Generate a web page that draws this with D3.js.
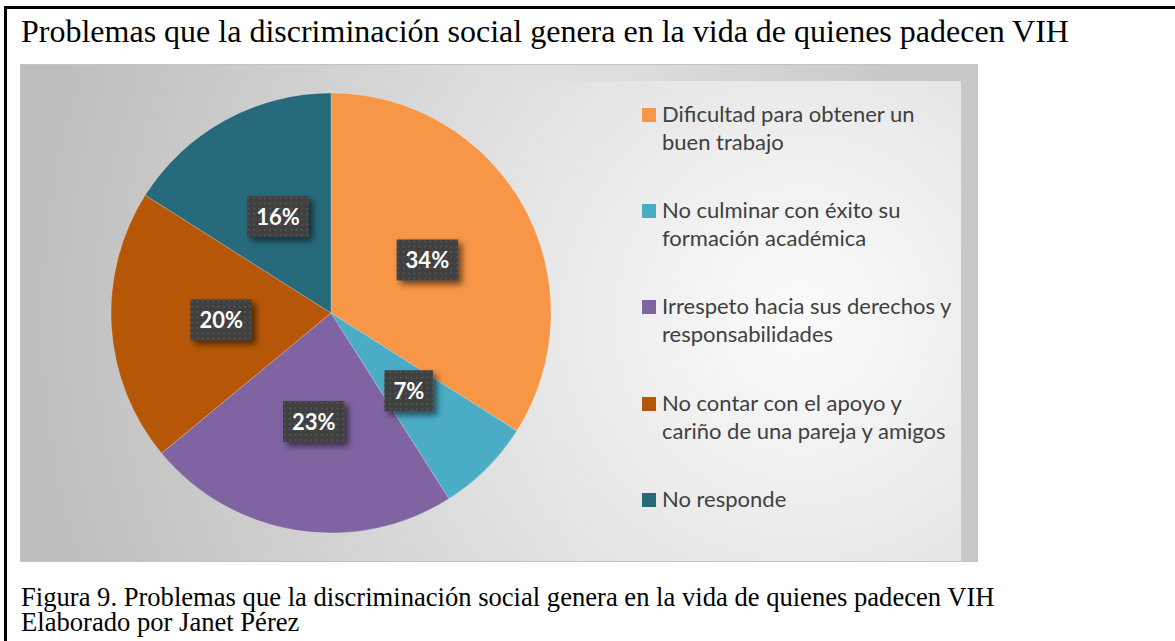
<!DOCTYPE html>
<html>
<head>
<meta charset="utf-8">
<script src="https://cdn.jsdelivr.net/npm/d3@7"></script>
<style>
  html, body { margin: 0; padding: 0; background: #fff; }
  svg { display: block; }
</style>
</head>
<body>
<div id="chart"></div>
<script>
// chart data
const categories = [
  "Dificultad para obtener un buen trabajo",
  "No culminar con éxito su formación académica",
  "Irrespeto hacia sus derechos y responsabilidades",
  "No contar con el apoyo y cariño de una pareja y amigos",
  "No responde"
]
const legendLines = [
  ["Dificultad para obtener un", "buen trabajo"],
  ["No culminar con éxito su", "formación académica"],
  ["Irrespeto hacia sus derechos y", "responsabilidades"],
  ["No contar con el apoyo y", "cariño de una pareja y amigos"],
  ["No responde"]
]
const values = [34, 7, 23, 20, 16]
const colors = ["#F79646", "#4BACC6", "#8064A2", "#B65708", "#276A7C"]

const titleText = "Problemas que la discriminación social genera en la vida de quienes padecen VIH"
const captionLines = [
  "Figura 9. Problemas que la discriminación social genera en la vida de quienes padecen VIH",
  "Elaborado por Janet Pérez"
]

const width = 1175
const height = 641

const svg = d3.select("#chart")
  .append("svg")
  .attr("width", width)
  .attr("height", height)

const defs = svg.append("defs")

// background gradient of the chart area
const bgGrad = defs.append("radialGradient")
  .attr("id", "bg-grad")
  .attr("gradientUnits", "userSpaceOnUse")
  .attr("cx", 800).attr("cy", 320).attr("r", 780)
bgGrad.append("stop").attr("offset", 0).attr("stop-color", "#fbfbfb")
bgGrad.append("stop").attr("offset", 0.25).attr("stop-color", "#ededed")
bgGrad.append("stop").attr("offset", 1).attr("stop-color", "#bdbdbd")

// fading band along the top right edge
const topGrad = defs.append("linearGradient")
  .attr("id", "top-grad")
  .attr("gradientUnits", "userSpaceOnUse")
  .attr("x1", 520).attr("x2", 890).attr("y1", 0).attr("y2", 0)
topGrad.append("stop").attr("offset", 0).attr("stop-color", "#c8c8c8").attr("stop-opacity", 0)
topGrad.append("stop").attr("offset", 1).attr("stop-color", "#c8c8c8").attr("stop-opacity", 1)

// dotted texture for the data labels
const pat = defs.append("pattern")
  .attr("id", "dots")
  .attr("patternUnits", "userSpaceOnUse")
  .attr("width", 5.3).attr("height", 5.3)
pat.append("rect").attr("width", 5.3).attr("height", 5.3).attr("fill", "#404040")
pat.append("rect").attr("x", 1.8).attr("y", 1.8).attr("width", 1.7).attr("height", 1.7).attr("fill", "#575757")

const shadow = defs.append("filter")
  .attr("id", "shadow")
  .attr("x", "-30%").attr("y", "-30%").attr("width", "170%").attr("height", "170%")
shadow.append("feDropShadow")
  .attr("dx", 4).attr("dy", 4).attr("stdDeviation", 3)
  .attr("flood-color", "#000").attr("flood-opacity", 0.55)

// outer frame
svg.append("line")
  .attr("x1", 5.5).attr("x2", 5.5).attr("y1", 6).attr("y2", height)
  .attr("stroke", "#000").attr("stroke-width", 3)
svg.append("line")
  .attr("x1", 4).attr("x2", width).attr("y1", 7.5).attr("y2", 7.5)
  .attr("stroke", "#000").attr("stroke-width", 3)

// title
svg.append("text")
  .attr("x", 21).attr("y", 42)
  .style("font-family", "'Liberation Serif', 'Times New Roman', serif")
  .style("font-size", "32px")
  .attr("fill", "#000")
  .text(titleText)

// chart area
const area = { x: 20, y: 64, w: 958, h: 498 }
svg.append("rect")
  .attr("x", area.x).attr("y", area.y)
  .attr("width", area.w).attr("height", area.h)
  .attr("fill", "url(#bg-grad)")
svg.append("rect")
  .attr("x", area.x).attr("y", area.y)
  .attr("width", area.w).attr("height", 17)
  .attr("fill", "url(#top-grad)")
svg.append("rect")
  .attr("x", 961).attr("y", area.y)
  .attr("width", 17).attr("height", area.h)
  .attr("fill", "#c8c8c8")
svg.append("rect")
  .attr("x", area.x + 0.5).attr("y", area.y + 0.5)
  .attr("width", area.w - 1).attr("height", area.h - 1)
  .attr("fill", "none").attr("stroke", "#c4c4c4")

// pie
const cx = 331, cy = 313, radius = 220
const pie = d3.pie().sort(null).value(d => d)
const arc = d3.arc().innerRadius(0).outerRadius(radius)
const arcs = pie(values)

const pieG = svg.append("g").attr("transform", `translate(${cx},${cy})`)
pieG.selectAll("path.slice")
  .data(arcs)
  .enter()
  .append("path")
  .attr("class", "slice")
  .attr("d", arc)
  .attr("fill", (d, i) => colors[i])
  .attr("stroke", "#ffffff")
  .attr("stroke-opacity", 0.35)
  .attr("stroke-width", 0.6)

// data labels
const labelG = pieG.selectAll("g.lbl")
  .data(arcs)
  .enter()
  .append("g")
  .attr("class", "lbl")
  .attr("transform", d => `translate(${arc.centroid(d)})`)

labelG.append("text")
  .attr("text-anchor", "middle")
  .attr("dy", "0.36em")
  .style("font-family", "Lato, 'Open Sans', sans-serif")
  .style("font-weight", "bold")
  .style("font-size", "22px")
  .attr("fill", "#fff")
  .text(d => d.value + "%")
  .each(function() {
    const bb = this.getBBox()
    const g = d3.select(this.parentNode)
    const w = bb.width + 18
    const h = 41
    g.insert("rect", "text")
      .attr("x", -w / 2).attr("y", -h / 2)
      .attr("width", w).attr("height", h)
      .attr("fill", "url(#dots)")
      .attr("filter", "url(#shadow)")
  })

// legend
const legendX = 642
const legendBase = [122, 218, 314, 411, 507]
const legend = svg.selectAll("g.legend")
  .data(legendLines)
  .enter()
  .append("g")
  .attr("class", "legend")
  .attr("transform", (d, i) => `translate(${legendX},${legendBase[i]})`)

legend.append("rect")
  .attr("x", 0).attr("y", -14)
  .attr("width", 14).attr("height", 14)
  .attr("fill", (d, i) => colors[i])

legend.append("text")
  .style("font-family", "Lato, 'Open Sans', sans-serif")
  .style("font-size", "22px")
  .attr("fill", "#404040")
  .selectAll("tspan")
  .data(d => d)
  .enter()
  .append("tspan")
  .attr("x", 20)
  .attr("y", (d, i) => i * 28)
  .text(d => d)

// caption
svg.append("text")
  .style("font-family", "'Liberation Serif', 'Times New Roman', serif")
  .style("font-size", "26.6px")
  .attr("fill", "#000")
  .selectAll("tspan")
  .data(captionLines)
  .enter()
  .append("tspan")
  .attr("x", 21)
  .attr("y", (d, i) => 606 + i * 25)
  .text(d => d)
</script>
</body>
</html>
